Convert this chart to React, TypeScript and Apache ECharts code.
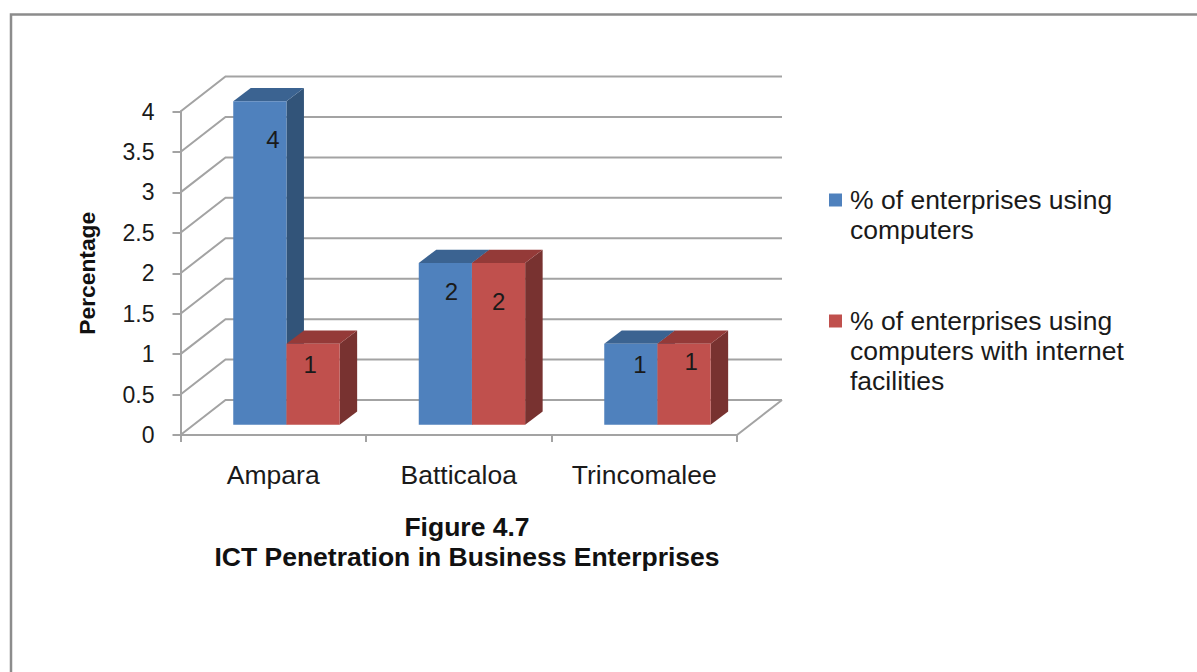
import React, { useEffect, useRef } from "react";
import * as echarts from "echarts";

const categories = ["Ampara", "Batticaloa", "Trincomalee"];
const computers = [4, 2, 1];
const internet = [1, 2, 1];
const yTicks = [0, 0.5, 1, 1.5, 2, 2.5, 3, 3.5, 4];
const seriesNames = [
  "% of enterprises using computers",
  "% of enterprises using computers with internet facilities",
];
const legendLines: Record<string, string> = {
  [seriesNames[0]]: "\n% of enterprises using\ncomputers",
  [seriesNames[1]]: "\n\n% of enterprises using\ncomputers with internet\nfacilities",
};

const WALL_DX = 45;
const WALL_DY = -35;
const BAR_W = 53.2;
const BAR_DX = 17.5;
const BAR_DY = -13.3;
const BAR_LIFT = -10.3;
const BAR_SHIFT = 13.2;
const GRID_COLOR = "#a3a3a3";
const TEXT = "#1a1a1a";
const SANS = "'Liberation Sans', Arial, sans-serif";

const blueNudge = [[13, 38], [6, 29], [9, 21]];
const redNudge = [[-3, 21], [0, 39], [7, 18]];

function wallItem(params: any, api: any) {
  const v = api.value(1);
  const cs = params.coordSys;
  const y = api.coord([0, v])[1];
  const left = cs.x;
  const style = { stroke: GRID_COLOR, lineWidth: 2, fill: "none" };
  const children: any[] = [
    { type: "polyline", shape: { points: [[left, y], [left + WALL_DX, y + WALL_DY], [left + cs.width + WALL_DX, y + WALL_DY]] }, style },
  ];
  if (v === 0) {
    children.push({ type: "line", shape: { x1: left + cs.width, y1: y, x2: left + cs.width + WALL_DX, y2: y + WALL_DY }, style });
  }
  return { type: "group", children };
}

function barRenderer(side: -1 | 1, front: string, dark: string, top: string, nudge: number[][]) {
  return (params: any, api: any) => {
    const idx = api.value(0);
    const val = api.value(1);
    const center = api.coord([idx, 0])[0] + BAR_SHIFT;
    const x0 = side < 0 ? center - BAR_W : center;
    const x1 = x0 + BAR_W;
    const yBase = api.coord([idx, 0])[1] + BAR_LIFT;
    const yTop = api.coord([idx, val])[1] + BAR_LIFT;
    const [nx, ny] = nudge[params.dataIndex];
    return {
      type: "group",
      children: [
        { type: "polygon", shape: { points: [[x1, yBase], [x1 + BAR_DX, yBase + BAR_DY], [x1 + BAR_DX, yTop + BAR_DY], [x1, yTop]] }, style: { fill: dark } },
        { type: "polygon", shape: { points: [[x0, yTop], [x0 + BAR_DX, yTop + BAR_DY], [x1 + BAR_DX, yTop + BAR_DY], [x1, yTop]] }, style: { fill: top } },
        { type: "rect", shape: { x: x0, y: yTop, width: BAR_W, height: yBase - yTop }, style: { fill: front } },
        {
          type: "text",
          x: (x0 + x1) / 2 + nx,
          y: yTop + ny,
          style: { text: String(val), fill: TEXT, font: `24px ${SANS}`, align: "center", verticalAlign: "middle" },
        },
      ],
    };
  };
}

export default function App() {
  const ref = useRef<HTMLDivElement>(null);
  useEffect(() => {
    document.body.style.margin = "0";
    const chart = echarts.init(ref.current!, undefined, { renderer: "svg" });
    chart.setOption({
      animation: false,
      backgroundColor: "#ffffff",
      textStyle: { fontFamily: SANS },
      title: {
        text: "Figure 4.7\nICT Penetration in Business Enterprises",
        left: 462,
        top: 507,
        textAlign: "center",
        textStyle: { fontFamily: SANS, fontWeight: "bold", fontSize: 26.5, lineHeight: 30, color: "#111111" },
      },
      legend: {
        left: 829,
        top: 155,
        orient: "vertical",
        icon: "rect",
        itemWidth: 13,
        itemHeight: 13,
        itemGap: 1,
        padding: 0,
        data: seriesNames,
        selectedMode: false,
        formatter: (n: string) => legendLines[n],
        textStyle: { fontFamily: SANS, fontSize: 26.5, lineHeight: 30, color: TEXT, padding: [0, 0, 0, 3] },
      },
      grid: { left: 180.5, top: 111.5, width: 556.5, height: 323.5, containLabel: false },
      xAxis: {
        type: "category",
        data: categories,
        axisLine: { lineStyle: { color: GRID_COLOR, width: 2 } },
        axisTick: { show: true, length: 7, lineStyle: { color: GRID_COLOR, width: 2 } },
        axisLabel: { color: TEXT, fontFamily: SANS, fontSize: 26.5, margin: 26, interval: 0, hideOverlap: false },
        splitLine: { show: false },
      },
      yAxis: {
        type: "value",
        min: 0,
        max: 4,
        interval: 0.5,
        name: "Percentage",
        nameLocation: "middle",
        nameGap: 82,
        nameRotate: 90,
        nameTextStyle: { color: "#111111", fontFamily: SANS, fontWeight: "bold", fontSize: 22.8 },
        axisLine: { show: true, lineStyle: { color: GRID_COLOR, width: 2 } },
        axisTick: { show: true, length: 8, lineStyle: { color: GRID_COLOR, width: 2 } },
        axisLabel: { color: TEXT, fontFamily: SANS, fontSize: 23, margin: 26 },
        splitLine: { show: false },
      },
      graphic: [
        {
          type: "rect",
          silent: true,
          z: -1,
          shape: { x: 11, y: 14.5, width: 1300, height: 800 },
          style: { fill: "none", stroke: "#8c8c8c", lineWidth: 2.5 },
        },
      ],
      series: [
        {
          type: "custom",
          name: "walls",
          z: 1,
          silent: true,
          data: yTicks.map((v) => [0, v]),
          encode: { x: 0, y: 1 },
          renderItem: wallItem,
        },
        {
          type: "custom",
          name: seriesNames[0],
          z: 2,
          silent: true,
          itemStyle: { color: "#4f81bd" },
          data: computers.map((v, i) => [i, v]),
          encode: { x: 0, y: 1 },
          renderItem: barRenderer(-1, "#4f81bd", "#325479", "#3b6391", blueNudge),
        },
        {
          type: "custom",
          name: seriesNames[1],
          z: 3,
          silent: true,
          itemStyle: { color: "#c0504d" },
          data: internet.map((v, i) => [i, v]),
          encode: { x: 0, y: 1 },
          renderItem: barRenderer(1, "#c0504d", "#783230", "#943a38", redNudge),
        },
      ],
    });
    return () => chart.dispose();
  }, []);
  return <div ref={ref} style={{ position: "fixed", left: 0, top: 0, width: 1197, height: 672 }} />;
}
